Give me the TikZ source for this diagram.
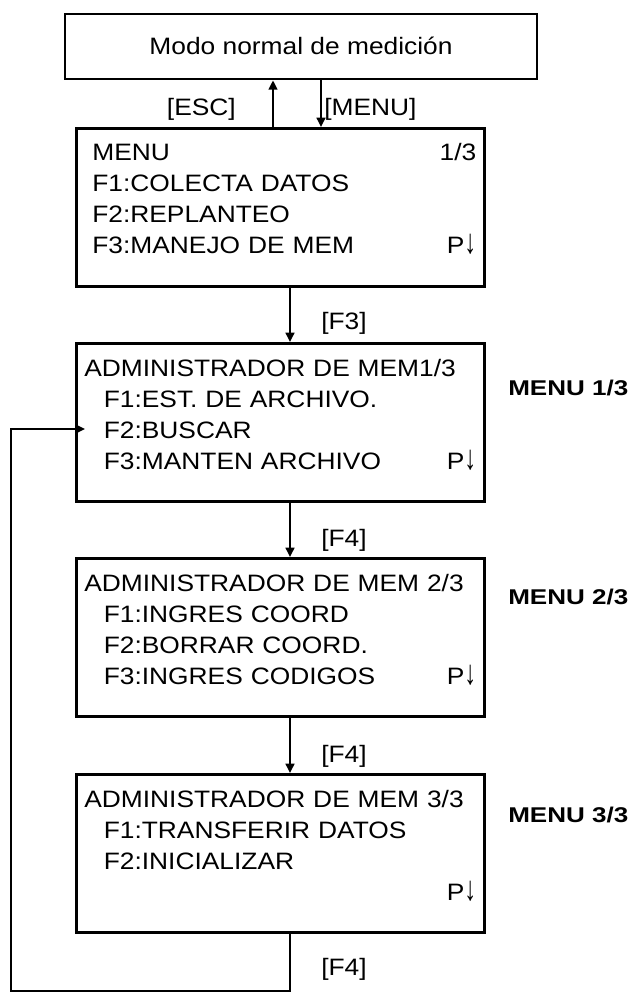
\documentclass[tikz,border=0pt]{standalone}
\usepackage{fontspec}
\setmainfont{Liberation Sans}[FakeStretch=1.11]
\newfontfamily\sidefont{Liberation Sans}[FakeStretch=1.22]
\usetikzlibrary{arrows.meta, calc}
\newcommand\rgt[1]{\hspace{0pt plus 1filll}#1\hspace*{15pt}}
\newcommand\ind{\hspace*{14.6pt}}
\newcommand\pdn{P\scalebox{0.9}[1.45]{↓}}

\begin{document}
\begin{tikzpicture}[x=0.75pt, y=-0.75pt,
  every node/.style={font=\fontsize{17.8}{23.25}\selectfont},
  scr/.style={draw, line width=2pt, anchor=north west,
    minimum width=306pt, inner xsep=6pt, inner ysep=0pt,
    text width=294pt, align=left, text height=24.75pt, text depth=93.75pt},
  key/.style={inner sep=0pt, anchor=base west},
  side/.style={inner sep=0pt, anchor=base west,
    font=\sidefont\bfseries\fontsize{16}{18}\selectfont},
  arr/.style={-{Triangle[length=7pt, width=6.5pt]}, line width=2pt}
]
  \useasboundingbox (0,0) rectangle (634,992);

  % Top mode
  \node[draw, line width=2pt, minimum width=354pt, minimum height=48.75pt,
    text height=12.6pt, text depth=0pt] (modo) at (301,46.5)
    {Modo normal de medición};

  % Screens
  \node[scr, text height=24pt, text depth=94.5pt] (m1) at (75,127)
    {\hspace*{6pt}MENU\rgt{1/3}\\
     \hspace*{6pt}F1:COLECTA DATOS\\
     \hspace*{6pt}F2:REPLANTEO\\
     \hspace*{6pt}F3:MANEJO DE MEM\rgt{\pdn}};
  \node[scr] (m2) at (75,342)
    {ADMINISTRADOR DE MEM1/3\\
     \ind F1:EST. DE ARCHIVO.\\
     \ind F2:BUSCAR\\
     \ind F3:MANTEN ARCHIVO\rgt{\pdn}};
  \node[scr] (m3) at (75,557)
    {ADMINISTRADOR DE MEM 2/3\\
     \ind F1:INGRES COORD\\
     \ind F2:BORRAR COORD.\\
     \ind F3:INGRES CODIGOS\rgt{\pdn}};
  \node[scr] (m4) at (75,773)
    {ADMINISTRADOR DE MEM 3/3\\
     \ind F1:TRANSFERIR DATOS\\
     \ind F2:INICIALIZAR\\
     \leavevmode\rgt{\pdn}};

  % Page labels
  \node[side] (p1) at (508,395) {MENU 1/3};
  \node[side] (p2) at (508,604) {MENU 2/3};
  \node[side] (p3) at (508,822) {MENU 3/3};

  % Keys
  \coordinate (up) at (273,0);
  \coordinate (dn) at (321,0);
  \coordinate (fx) at (290,0);
  \draw[arr] (m1.north -| up) -- (modo.south -| up);
  \draw[arr] (modo.south -| dn) -- (m1.north -| dn);
  \node[key, anchor=base east] (kesc) at (236,115) {[ESC]};
  \node[key] (kmenu) at (324,115) {[MENU]};

  \draw[arr] (m1.south -| fx) -- (m2.north -| fx);
  \node[key] (kf3) at (321,329) {[F3]};
  \draw[arr] (m2.south -| fx) -- (m3.north -| fx);
  \node[key] (kf4a) at (321,546) {[F4]};
  \draw[arr] (m3.south -| fx) -- (m4.north -| fx);
  \node[key] (kf4b) at (321,762) {[F4]};

  % Back to page 1
  \coordinate (lc) at (11,991);
  \coordinate (buscar) at (85,429);
  \draw[arr] (m4.south -| fx) |- (lc) |- (buscar);
  \node[key] (kf4c) at (321,975) {[F4]};
\end{tikzpicture}
\end{document}
